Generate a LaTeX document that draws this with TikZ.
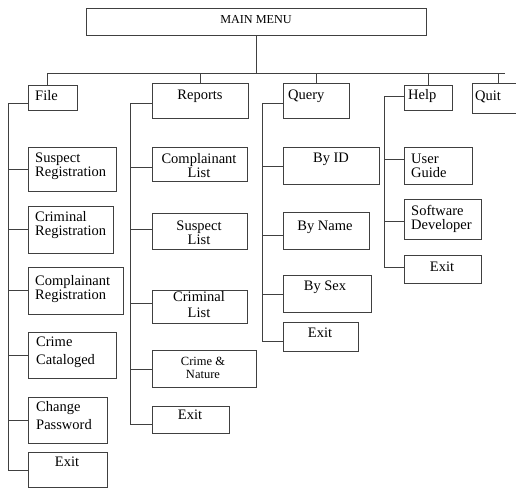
\documentclass[tikz,border=0pt]{standalone}
\usepackage{fontspec}
\setmainfont{Liberation Serif}
\usetikzlibrary{fit}
\begin{document}
\begin{tikzpicture}[x=1pt,y=-1pt,
  box/.style={draw=black!75, line width=1pt, inner sep=0pt},
  wire/.style={draw=black!75, line width=1pt},
  lbl/.style={inner sep=0pt, font=\fontsize{14.5}{14}\selectfont, text=black},
  lblc/.style={lbl, align=center},
  lbll/.style={lbl, align=left, anchor=west}]
\useasboundingbox (0,0) rectangle (516,488);
% boxes
\node[box, fit={(86,8) (426,35)}] (main) {};
\node[box, fit={(28,85) (77,110)}] (file) {};
\node[box, fit={(152,83) (248,118)}] (rep) {};
\node[box, fit={(283,83) (349,118)}] (qry) {};
\node[box, fit={(404,85) (452,110)}] (help) {};
\draw[wire] (530,83) coordinate (qtr) -- (472,83) coordinate (qtl) -- (472,113) coordinate (qbl) -- (530,113) coordinate (qbr);
% File children
\node[box, fit={(28,147) (116,191)}] (f1) {};
\node[box, fit={(28,206) (113,253)}] (f2) {};
\node[box, fit={(28,267) (123,314)}] (f3) {};
\node[box, fit={(28,332) (116,378)}] (f4) {};
\node[box, fit={(28,397) (107,443)}] (f5) {};
\node[box, fit={(28,452) (107,487)}] (f6) {};
% Reports children
\node[box, fit={(152,147) (247,181)}] (r1) {};
\node[box, fit={(152,213) (247,249)}] (r2) {};
\node[box, fit={(152,290) (247,323)}] (r3) {};
\node[box, fit={(152,350) (256,387)}] (r4) {};
\node[box, fit={(152,406) (229,433)}] (r5) {};
% Query children
\node[box, fit={(283,147) (379,184)}] (q1) {};
\node[box, fit={(283,212) (369,249)}] (q2) {};
\node[box, fit={(283,275) (371,312)}] (q3) {};
\node[box, fit={(283,322) (358,351)}] (q4) {};
% Help children
\node[box, fit={(404,147) (472,184)}] (h1) {};
\node[box, fit={(404,199) (481,239)}] (h2) {};
\node[box, fit={(404,255) (481,283)}] (h3) {};
% labels
\node[lbl, font=\fontsize{12.2}{14}\selectfont] (tmain) at (256,20) {MAIN MENU};
\node[lbll] (tfile) at (35,96) {File};
\node[lblc] (trep) at (200,96) {Reports};
\node[lbll] (tqry) at (288,96) {Query};
\node[lbll] (thelp) at (408,96) {Help};
\node[lbll] (tquit) at (475,97) {Quit};
\node[lbll] (tf1) at (35,166) {Suspect\\Registration};
\node[lbll] (tf2) at (35,225) {Criminal\\Registration};
\node[lbll] (tf3) at (35,289) {Complainant\\Registration};
\node[lbll, font=\fontsize{14.5}{18}\selectfont] (tf4) at (36,352) {Crime\\Cataloged};
\node[lbll, font=\fontsize{14.5}{18}\selectfont] (tf5) at (36,416) {Change\\Password};
\node[lblc] (tf6) at (67,462) {Exit};
\node[lblc] (tr1) at (199,166) {Complainant\\List};
\node[lblc] (tr2) at (199,233) {Suspect\\List};
\node[lblc, font=\fontsize{14.5}{16}\selectfont] (tr3) at (199,305) {Criminal\\List};
\node[lblc, font=\fontsize{12.5}{13}\selectfont] (tr4) at (203,368) {Crime \&\\Nature};
\node[lblc] (tr5) at (190,415) {Exit};
\node[lblc] (tq1) at (331,159) {By ID};
\node[lblc] (tq2) at (325,227) {By Name};
\node[lblc] (tq3) at (325,287) {By Sex};
\node[lblc] (tq4) at (320,333) {Exit};
\node[lbll] (th1) at (411,166) {User\\Guide};
\node[lbll] (th2) at (411,219) {Software\\Developer};
\node[lblc] (th3) at (442,267) {Exit};
% bus
\coordinate (busL) at (47,73);
\coordinate (busR) at (505,73);
\coordinate (dQuit) at (498,73);
\draw[wire] (main.south) -- (main.south |- busL);
\draw[wire] (busL) -- (busR);
\draw[wire] (busL) -- (busL |- file.north);
\draw[wire] (rep.north) -- (rep.north |- busL);
\draw[wire] (qry.north) -- (qry.north |- busL);
\draw[wire] (help.north) -- (help.north |- busL);
\draw[wire] (dQuit) -- (dQuit |- qtl);
% File trunk
\coordinate (fT) at (8,103);
\coordinate (fB) at (8,470);
\draw[wire] (fT -| file.west) -- (fT) -- (fB) -- (fB -| f6.west);
\foreach \c in {f1,f2,f3,f4,f5} \draw[wire] (\c.west) -- (\c.west -| fT);
% Reports trunk
\coordinate (rT) at (130,103);
\coordinate (rB) at (130,424);
\draw[wire] (rT -| rep.west) -- (rT) -- (rB) -- (rB -| r5.west);
\foreach \c/\yy in {r1/167,r2/229,r3/303,r4/369} \draw[wire] (\c.west |- 0,\yy) -- (rT |- 0,\yy);
% Query trunk
\coordinate (qT) at (262,103);
\coordinate (qB) at (262,341);
\draw[wire] (qT -| qry.west) -- (qT) -- (qB) -- (qB -| q4.west);
\foreach \c/\yy in {q1/166,q2/235,q3/294} \draw[wire] (\c.west |- 0,\yy) -- (qT |- 0,\yy);
% Help trunk
\coordinate (hT) at (384,96);
\coordinate (hB) at (384,267);
\draw[wire] (hT -| help.west) -- (hT) -- (hB) -- (hB -| h3.west);
\foreach \c/\yy in {h1/159,h2/221} \draw[wire] (\c.west |- 0,\yy) -- (hT |- 0,\yy);
\end{tikzpicture}
\end{document}
